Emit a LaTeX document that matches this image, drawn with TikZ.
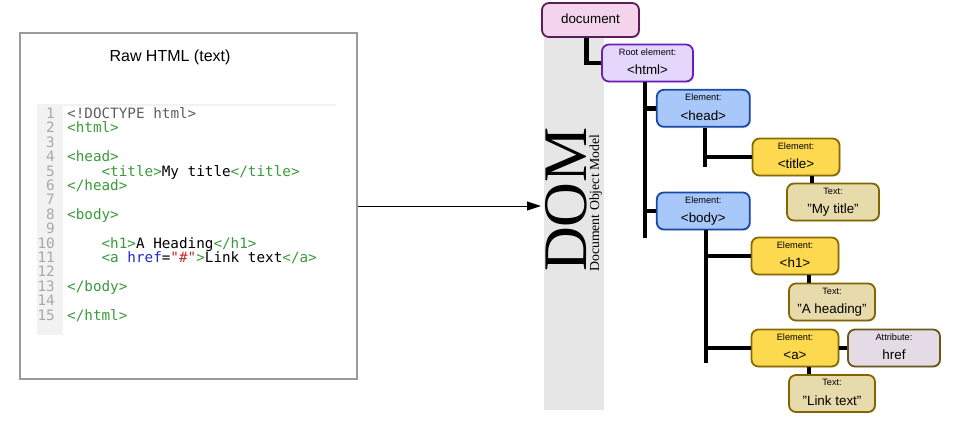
\documentclass[tikz,border=0pt]{standalone}
\usepackage{fontspec}
\setmainfont{Liberation Sans}
\setmonofont{DejaVu Sans Mono}
\newfontfamily\domserif{Liberation Serif}
\usetikzlibrary{arrows.meta,positioning,shadows}

\definecolor{boxgray}{HTML}{9A9A9A}
\definecolor{guttergray}{HTML}{F2F2F2}
\definecolor{numgray}{HTML}{A8A8A8}
\definecolor{codegreen}{HTML}{3A9A3A}
\definecolor{codeblue}{HTML}{2626C8}
\definecolor{codered}{HTML}{C42828}
\definecolor{codegray}{HTML}{5E5E5E}
\definecolor{domgray}{HTML}{E6E6E6}
\definecolor{docfill}{HTML}{F3D4EC}
\definecolor{docline}{HTML}{5B1C57}
\definecolor{htmlfill}{HTML}{E5D7FC}
\definecolor{htmlline}{HTML}{6A1FB8}
\definecolor{headfill}{HTML}{A8C8FA}
\definecolor{headline}{HTML}{1849A9}
\definecolor{elemfill}{HTML}{FDD94F}
\definecolor{elemline}{HTML}{8A6B00}
\definecolor{textfill}{HTML}{E8DBAB}
\definecolor{textline}{HTML}{806600}
\definecolor{attrfill}{HTML}{E4DBE6}
\definecolor{attrline}{HTML}{6B5718}

\newcommand\tg[1]{\textcolor{codegreen}{#1}}
\newcommand\domtxt[2]{{\fontsize{9.2}{10}\selectfont #1}\\#2}

\tikzset{
  dombox/.style={rounded corners=7pt, line width=1.8pt, inner sep=0pt,
    minimum height=37pt, align=center,
    font=\fontsize{13.4}{19.5}\selectfont, text height=26.2pt, text depth=2.6pt,
    drop shadow={shadow xshift=1.2pt, shadow yshift=-1.2pt, opacity=.25}},
  docbox/.style={dombox, fill=docfill, draw=docline, text height=9.5pt, text depth=2.7pt},
  rootbox/.style={dombox, fill=htmlfill, draw=htmlline},
  headbox/.style={dombox, fill=headfill, draw=headline},
  elembox/.style={dombox, fill=elemfill, draw=elemline},
  textbox/.style={dombox, fill=textfill, draw=textline},
  attrbox/.style={dombox, fill=attrfill, draw=attrline},
  conn/.style={line width=4.8pt, line join=miter},
  codeline/.style={anchor=base west, inner sep=0pt, font=\ttfamily\fontsize{14.3}{14}\selectfont},
  numline/.style={anchor=base east, inner sep=0pt, text=numgray, font=\ttfamily\fontsize{14.3}{14}\selectfont}
}

\begin{document}
\begin{tikzpicture}[x=1pt,y=-1pt]
  \useasboundingbox (0,0) rectangle (961,429);

  % ---- Raw HTML panel ----------------------------------------
  \node[draw=boxgray, line width=1.5pt, minimum width=337pt, minimum height=346pt,
    inner sep=0pt] (htmlbox) at (188.5,206) {};
  \node[font=\fontsize{16}{18}\selectfont] (rawtitle) at (170,57) {Raw HTML (text)};

  % gutter
  \fill[guttergray] (37,104) rectangle (62,335);
  \draw[guttergray!80!black!20, line width=1pt] (62,104) -- (62,335);
  \draw[guttergray, line width=2pt] (62,105) -- (336,105);
  \foreach \n in {1,...,15}
    \node[numline] (num\n) at (55,{118.5+(\n-1)*14.4}) {\n};

  % code
  \node[codeline] (c1)  at (67,118.5)    {\textcolor{codegray}{<!DOCTYPE html>}};
  \node[codeline] (c2)  at (67,132.9)    {\tg{<html>}};
  \node[codeline] (c4)  at (67,161.7)    {\tg{<head>}};
  \node[codeline] (c5)  at (101.4,176.1) {\tg{<title>}My title\tg{</title>}};
  \node[codeline] (c6)  at (67,190.5)    {\tg{</head>}};
  \node[codeline] (c8)  at (67,219.3)    {\tg{<body>}};
  \node[codeline] (c10) at (101.4,248.1) {\tg{<h1>}A Heading\tg{</h1>}};
  \node[codeline] (c11) at (101.4,262.5)
    {\tg{<a} \textcolor{codeblue}{href}=\textcolor{codered}{"\#"}\tg{>}Link text\tg{</a>}};
  \node[codeline] (c13) at (67,291.3)    {\tg{</body>}};
  \node[codeline] (c15) at (67,320.1)    {\tg{</html>}};

  % ---- DOM bar -----------------------------------------------
  \node[fill=domgray, minimum width=60pt, minimum height=390pt, inner sep=0pt,
    anchor=north west] (dombar) at (544,20) {};
  \node[rotate=90, anchor=base west, inner sep=0pt,
    font=\domserif\fontsize{62}{62}\selectfont] (domword) at (586,272) {DOM};
  \node[rotate=90, anchor=base west, inner sep=0pt,
    font=\domserif\fontsize{13.8}{14}\selectfont] (domsub) at (599,272) {Document Object Model};

  \draw[-{Triangle[length=14pt,width=9pt]}, line width=0.9pt, shorten >=3pt]
    (htmlbox.east) -- (htmlbox.east -| dombar.west);

  % ---- DOM tree ----------------------------------------------
  \node[docbox, minimum width=97pt, minimum height=34pt] (doc) at (590.5,20) {document};
  \node[rootbox, minimum width=91pt] (html) at (647.5,63) {\domtxt{Root element:}{<html>}};
  \node[headbox, minimum width=93pt] (head) at (703.3,108.3) {\domtxt{Element:}{<head>}};
  \node[headbox, minimum width=93pt] (body) at (703.3,211) {\domtxt{Element:}{<body>}};
  \node[elembox, minimum width=87pt] (title) at (796,157) {\domtxt{Element:}{<title>}};
  \node[textbox, minimum width=92pt] (ttext) at (833,202) {\domtxt{Text:}{"My title"}};
  \node[elembox, minimum width=87pt] (h1) at (795,256) {\domtxt{Element:}{<h1>}};
  \node[textbox, minimum width=86pt] (htext) at (832,302) {\domtxt{Text:}{"A heading"}};
  \node[elembox, minimum width=87pt] (a) at (795,348) {\domtxt{Element:}{<a>}};
  \node[attrbox, minimum width=92pt] (href) at (894,348) {\domtxt{Attribute:}{href}};
  \node[textbox, minimum width=86pt] (atext) at (832,393.5) {\domtxt{Text:}{"Link text"}};

  % connectors
  \coordinate (doctap) at ([xshift=-4pt]doc.south);
  \coordinate (htmltap) at ([xshift=-2.5pt]html.south);
  \coordinate (headtap) at ([xshift=1.7pt]head.south);
  \coordinate (bodytap) at ([xshift=2.7pt]body.south);
  \coordinate (titletap) at ([xshift=16pt]title.south);
  \coordinate (h1tap) at ([xshift=14pt]h1.south);
  \coordinate (atap) at ([xshift=14pt]a.south);

  \draw[conn] (doctap) |- (html.west);
  \draw[conn] (htmltap) -- ++(0,156);
  \draw[conn] (htmltap |- head.west) -- (head.west);
  \draw[conn] (htmltap |- body.west) -- (body.west);
  \draw[conn] (headtap) -- ++(0,39);
  \draw[conn] (headtap |- title.west) -- (title.west);
  \draw[conn] (bodytap) -- ++(0,133);
  \draw[conn] (bodytap |- h1.west) -- (h1.west);
  \draw[conn] (bodytap |- a.west) -- (a.west);
  \draw[conn] (titletap) -- (titletap |- ttext.north);
  \draw[conn] (h1tap) -- (h1tap |- htext.north);
  \draw[conn] (atap) -- (atap |- atext.north);
  \draw[conn] (a.east) -- (href.west);
\end{tikzpicture}
\end{document}
